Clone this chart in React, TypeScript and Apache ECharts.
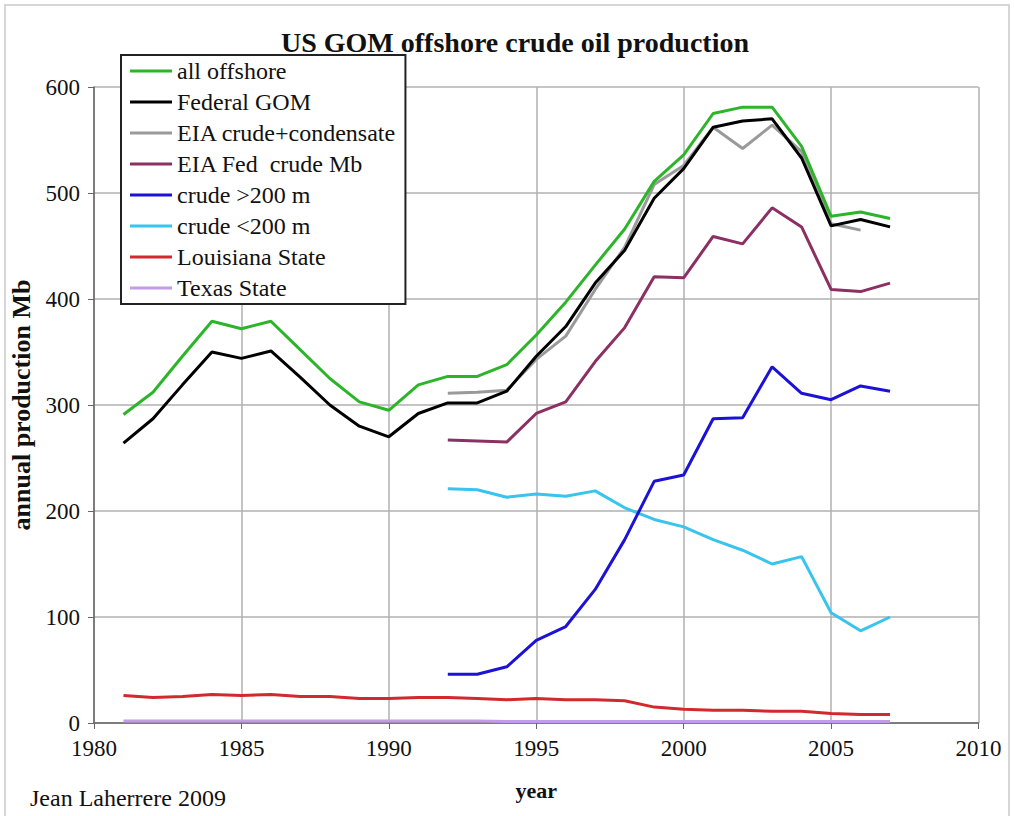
import React, { useEffect, useRef } from "react";
import * as echarts from "echarts";

const years = [1981, 1982, 1983, 1984, 1985, 1986, 1987, 1988, 1989, 1990, 1991, 1992, 1993, 1994, 1995, 1996, 1997, 1998, 1999, 2000, 2001, 2002, 2003, 2004, 2005, 2006, 2007];

const allOffshore = [291, 312, 346, 379, 372, 379, 352, 325, 303, 295, 319, 327, 327, 338, 366, 397, 432, 466, 511, 536, 575, 581, 581, 544, 478, 482, 476];
const federalGOM = [264, 287, 319, 350, 344, 351, 326, 300, 280, 270, 292, 302, 302, 313, 346, 374, 415, 446, 495, 523, 562, 568, 570, 533, 469, 475, 468];
const eiaCrudeCond = [null, null, null, null, null, null, null, null, null, null, null, 311, 312, 314, 343, 365, 409, 449, 508, 526, 562, 542, 564, 539, 471, 465, null];
const eiaFedCrude = [null, null, null, null, null, null, null, null, null, null, null, 267, 266, 265, 292, 303, 341, 373, 421, 420, 459, 452, 486, 468, 409, 407, 415];
const crudeDeep = [null, null, null, null, null, null, null, null, null, null, null, 46, 46, 53, 78, 91, 126, 173, 228, 234, 287, 288, 336, 311, 305, 318, 313];
const crudeShallow = [null, null, null, null, null, null, null, null, null, null, null, 221, 220, 213, 216, 214, 219, 203, 192, 185, 173, 163, 150, 157, 104, 87, 100];
const louisiana = [26, 24, 25, 27, 26, 27, 25, 25, 23, 23, 24, 24, 23, 22, 23, 22, 22, 21, 15, 13, 12, 12, 11, 11, 9, 8, 8];
const texas = [2, 2, 2, 2, 2, 2, 2, 2, 2, 2, 2, 2, 2, 1.5, 1.5, 1.5, 1.5, 1.5, 1.5, 1.5, 1.5, 1.5, 1.5, 1.5, 1.5, 1.5, 1.5];

const seriesNames = ["all offshore", "Federal GOM", "EIA crude+condensate", "EIA Fed  crude Mb", "crude >200 m", "crude <200 m", "Louisiana State", "Texas State"];
const seriesColors = ["#2db52a", "#000000", "#9a9a9a", "#8c2f62", "#1c12d6", "#38c4ec", "#d12a2e", "#c39be6"];
const seriesValues = [allOffshore, federalGOM, eiaCrudeCond, eiaFedCrude, crudeDeep, crudeShallow, louisiana, texas];

const xTicks = { min: 1980, max: 2010, interval: 5 };
const yTicks = { min: 0, max: 600, interval: 100 };

const serif = "'Liberation Serif', 'DejaVu Serif', serif";

export default function App() {
  const ref = useRef<HTMLDivElement>(null);
  useEffect(() => {
    if (!ref.current) return;
    const chart = echarts.init(ref.current, null, { renderer: "svg" });
    const series = seriesNames.map((name, i) => ({
      name,
      type: "line",
      data: years.map((y, j) => [y, seriesValues[i][j]]),
      symbol: "none",
      showSymbol: false,
      connectNulls: false,
      lineStyle: { color: seriesColors[i], width: 3 },
      itemStyle: { color: seriesColors[i] },
      z: 10 - i,
    }));
    chart.setOption({
      animation: false,
      backgroundColor: "#ffffff",
      grid: { left: 93.5, right: 35.5, top: 87, bottom: 93, containLabel: false },
      xAxis: {
        type: "value",
        min: xTicks.min,
        max: xTicks.max,
        interval: xTicks.interval,
        name: "year",
        nameLocation: "middle",
        nameGap: 56,
        nameTextStyle: { fontFamily: serif, fontWeight: "bold", fontSize: 22, color: "#111" },
        axisLine: { show: true, lineStyle: { color: "#666", width: 1.5 } },
        axisTick: { show: true, length: 6, lineStyle: { color: "#666" } },
        axisLabel: { fontFamily: serif, fontSize: 23, color: "#111", margin: 14, formatter: (v: number) => String(v) },
        splitLine: { show: true, lineStyle: { color: "#b0b0b0", width: 1.5 } },
      },
      yAxis: {
        type: "value",
        min: yTicks.min,
        max: yTicks.max,
        interval: yTicks.interval,
        name: "annual production Mb",
        nameLocation: "middle",
        nameGap: 60,
        nameRotate: 90,
        nameTextStyle: { fontFamily: serif, fontWeight: "bold", fontSize: 26, color: "#111" },
        axisLine: { show: true, lineStyle: { color: "#666", width: 1.5 } },
        axisTick: { show: true, length: 6, lineStyle: { color: "#666" } },
        axisLabel: { fontFamily: serif, fontSize: 23, color: "#111", margin: 14, formatter: (v: number) => String(v) },
        splitLine: { show: true, lineStyle: { color: "#b0b0b0", width: 1.5 } },
      },
      legend: {
        show: true,
        orient: "vertical",
        left: 121,
        top: 55,
        icon: "rect",
        itemWidth: 42,
        itemHeight: 3,
        itemGap: 7,
        padding: [4, 9, 4, 9],
        backgroundColor: "#ffffff",
        borderColor: "#222",
        borderWidth: 2,
        borderRadius: 0,
        textStyle: { fontFamily: serif, fontSize: 24, color: "#111" },
        data: seriesNames,
      },
      graphic: [
        {
          type: "rect",
          shape: { x: 5, y: 5, width: 1004, height: 820 },
          style: { fill: "none", stroke: "#d6d6d6", lineWidth: 2 },
          silent: true,
        },
        {
          type: "text",
          x: 515,
          y: 42,
          style: {
            text: "US GOM offshore crude oil production",
            fontFamily: serif,
            fontWeight: "bold",
            fontSize: 28,
            fill: "#111",
            textAlign: "center",
            textVerticalAlign: "middle",
          },
        },
        {
          type: "text",
          x: 30,
          y: 798,
          style: {
            text: "Jean Laherrere 2009",
            fontFamily: serif,
            fontSize: 24,
            fill: "#111",
            textAlign: "left",
            textVerticalAlign: "middle",
          },
        },
      ],
      series,
    });
    return () => chart.dispose();
  }, []);
  return <div ref={ref} style={{ position: "fixed", left: 0, top: 0, width: 1014, height: 816 }} />;
}
